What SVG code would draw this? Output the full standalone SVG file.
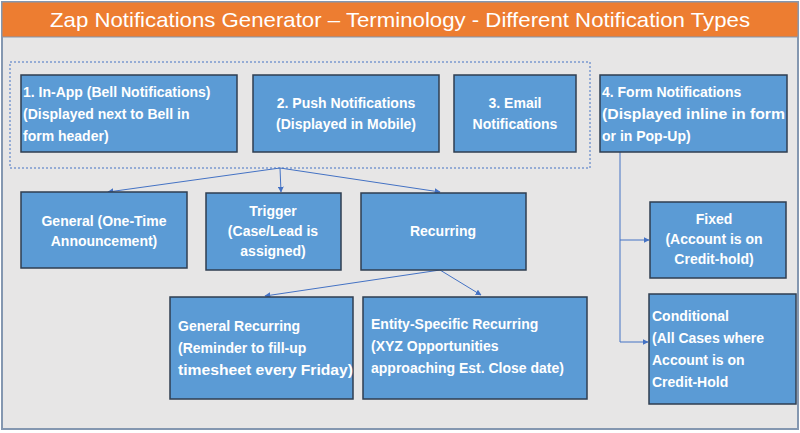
<svg xmlns="http://www.w3.org/2000/svg" width="800" height="433" viewBox="0 0 800 433">
<defs>
<style>
.b{fill:#5B9BD5;stroke:#2F3E50;stroke-width:1.5}
.t{fill:#fff;font-family:"Liberation Sans",Arial,sans-serif;font-weight:bold;font-size:14px}
.c{stroke:#4472C4;stroke-width:1;fill:none;marker-end:url(#a)}
</style>
<marker id="a" viewBox="0 0 10 10" refX="9" refY="5" markerWidth="6" markerHeight="6" orient="auto"><path d="M0,0L10,5L0,10z" fill="#4472C4"/></marker>
</defs>
<rect x="2" y="2" width="796" height="427" fill="#E7E6E6" stroke="#8497B0" stroke-width="2"/>
<rect x="2" y="2" width="796" height="35" fill="#ED7D31" stroke="#8497B0" stroke-width="1"/>
<text x="400" y="27" text-anchor="middle" fill="#fff" font-family="'Liberation Sans',Arial,sans-serif" font-size="21" textLength="700" lengthAdjust="spacingAndGlyphs">Zap Notifications Generator – Terminology - Different Notification Types</text>
<rect x="10" y="62" width="580" height="106" fill="none" stroke="#4472C4" stroke-dasharray="2,2"/>
<g id="connectors">
<path class="c" d="M280,168L108,192"/>
<path class="c" d="M280,168L281,192"/>
<path class="c" d="M280,168L440,192"/>
<path class="c" d="M440,270L265,296"/>
<path class="c" d="M440,270L481,295"/>
<path d="M620,152V342" stroke="#4472C4" fill="none"/>
<path class="c" d="M620,240H649"/>
<path class="c" d="M620,342H648"/>
</g>
<g id="inapp"><rect class="b" x="21" y="75" width="216" height="77"/><text class="t" x="23" y="97">1. In-App (Bell Notifications)</text><text class="t" x="23" y="119">(Displayed next to Bell in</text><text class="t" x="23" y="141">form header)</text></g>
<g id="push"><rect class="b" x="253" y="75" width="186" height="77"/><text class="t" x="346" y="108" text-anchor="middle">2. Push Notifications</text><text class="t" x="346" y="129" text-anchor="middle">(Displayed in Mobile)</text></g>
<g id="email"><rect class="b" x="454" y="75" width="122" height="77"/><text class="t" x="515" y="108" text-anchor="middle">3. Email</text><text class="t" x="515" y="129" text-anchor="middle">Notifications</text></g>
<g id="form"><rect class="b" x="600" y="75" width="187" height="77"/><text class="t" x="602" y="97">4. Form Notifications</text><text class="t" x="602" y="119" textLength="183" lengthAdjust="spacingAndGlyphs">(Displayed inline in form</text><text class="t" x="602" y="141">or in Pop-Up)</text></g>
<g id="general"><rect class="b" x="21" y="192" width="166" height="76"/><text class="t" x="104" y="226" text-anchor="middle">General (One-Time</text><text class="t" x="104" y="246" text-anchor="middle">Announcement)</text></g>
<g id="trigger"><rect class="b" x="206" y="193" width="135" height="77"/><text class="t" x="273" y="216" text-anchor="middle">Trigger</text><text class="t" x="273" y="236" text-anchor="middle">(Case/Lead is</text><text class="t" x="273" y="256" text-anchor="middle">assigned)</text></g>
<g id="recurring"><rect class="b" x="361" y="193" width="165" height="77"/><text class="t" x="443" y="236" text-anchor="middle">Recurring</text></g>
<g id="fixed"><rect class="b" x="650" y="202" width="136" height="76"/><text class="t" x="714" y="224" text-anchor="middle">Fixed</text><text class="t" x="714" y="244" text-anchor="middle">(Account is on</text><text class="t" x="714" y="264" text-anchor="middle">Credit-hold)</text></g>
<g id="genrec"><rect class="b" x="170" y="297" width="183" height="102"/><text class="t" x="178" y="331">General Recurring</text><text class="t" x="178" y="353">(Reminder to fill-up</text><text class="t" x="178" y="375" textLength="175" lengthAdjust="spacingAndGlyphs">timesheet every Friday)</text></g>
<g id="entity"><rect class="b" x="363" y="297" width="224" height="102"/><text class="t" x="371" y="329">Entity-Specific Recurring</text><text class="t" x="371" y="351">(XYZ Opportunities</text><text class="t" x="371" y="373">approaching Est. Close date)</text></g>
<g id="conditional"><rect class="b" x="649" y="294" width="147" height="110"/><text class="t" x="652" y="321">Conditional</text><text class="t" x="652" y="343">(All Cases where</text><text class="t" x="652" y="365">Account is on</text><text class="t" x="652" y="387">Credit-Hold</text></g>
</svg>
